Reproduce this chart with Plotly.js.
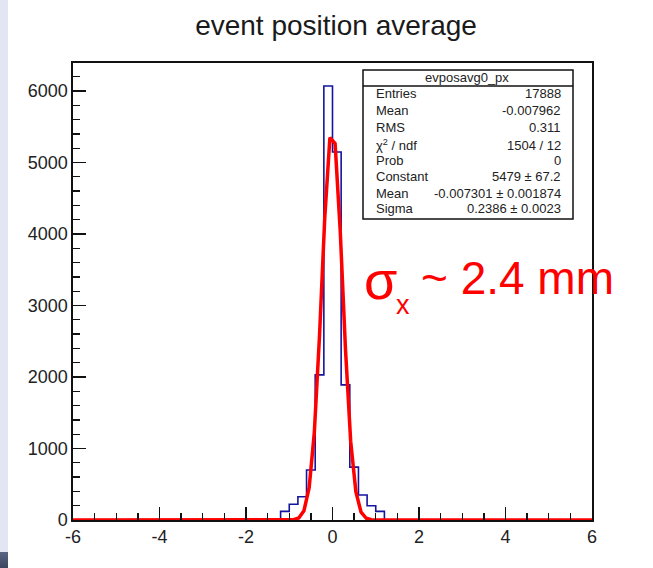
<!DOCTYPE html>
<html>
<head>
<meta charset="utf-8">
<script src="https://cdn.plot.ly/plotly-3.0.1.min.js"></script>
<style>
  html, body { margin: 0; padding: 0; background: #ffffff; }
  #chart { position: absolute; left: 0; top: 0; width: 653px; height: 568px; }
  #strip { position: absolute; left: 0; top: 0; width: 8px; height: 552px; background: #e2e6f3; z-index: 5; }
  #stripDark { position: absolute; left: 0; top: 552px; width: 8px; height: 16px; background: linear-gradient(#5a6684, #3c4660); z-index: 5; }
</style>
</head>
<body>
<div id="chart"></div>
<div id="strip"></div>
<div id="stripDark"></div>
<script>
// ---- data ----
const binEdges = [-1.2, -1.0, -0.8, -0.6, -0.4, -0.2, 0.0, 0.2, 0.4, 0.6, 0.8, 1.0, 1.2];
const binCounts = [120, 220, 326, 700, 2030, 6070, 5147, 1890, 740, 350, 200, 120];

const fitX = [-6, -1.02, -0.90, -0.78, -0.66, -0.54, -0.42, -0.30, -0.18, -0.06,
              0.06, 0.18, 0.30, 0.42, 0.54, 0.66, 0.78, 0.90, 1.02, 6];
const fitY = [0, 0.4, 5, 29, 130, 453, 1227, 2582, 4216, 5347,
              5265, 4027, 2391, 1102, 395, 110, 24, 4, 0.4, 0];

const xTickVals = [-6, -4, -2, 0, 2, 4, 6];
const xTickText = ['-6', '-4', '-2', '0', '2', '4', '6'];
const yTickVals = [0, 1000, 2000, 3000, 4000, 5000, 6000];
const yTickText = ['0', '1000', '2000', '3000', '4000', '5000', '6000'];

const statsTitle = 'evposavg0_px';
const statLabels = ['Entries', 'Mean', 'RMS', 'χ<sup>2</sup> / ndf', 'Prob', 'Constant', 'Mean', 'Sigma'];
const statValues = ['17888', '-0.007962', '0.311', '1504 / 12', '0', '5479 ± 67.2', '-0.007301 ± 0.001874', '0.2386 ± 0.0023'];

const chartTitle = 'event position average';

// ---- build histogram outline (step) ----
const histX = [-6];
const histY = [0];
for (let i = 0; i < binCounts.length; i++) {
  histX.push(binEdges[i]);
  histY.push(binCounts[i]);
}
histX.push(binEdges[binEdges.length - 1]);
histY.push(0);
histX.push(6);
histY.push(0);

// ---- pixel -> paper helpers (layout only) ----
const L = 73, R = 592, T = 63, B = 520;
const W = 653, H = 568;
const px = p => (p - L) / (R - L);
const py = p => (B - p) / (B - T);

const FONT = 'Liberation Sans, Arial, Helvetica, sans-serif';

const traces = [
  {
    x: histX, y: histY, type: 'scatter', mode: 'lines',
    line: { shape: 'hv', color: 'rgb(20,20,160)', width: 1.6 },
    hoverinfo: 'skip', showlegend: false
  },
  {
    x: fitX, y: fitY, type: 'scatter', mode: 'lines',
    line: { shape: 'linear', color: 'rgb(255,0,0)', width: 3.5 },
    hoverinfo: 'skip', showlegend: false
  }
];

const shapes = [
  { type: 'rect', xref: 'paper', yref: 'paper', x0: px(363), x1: px(573), y0: py(219), y1: py(70),
    line: { color: '#111', width: 1.5 }, fillcolor: '#ffffff', layer: 'above' },
  { type: 'line', xref: 'paper', yref: 'paper', x0: px(363), x1: px(573), y0: py(86), y1: py(86),
    line: { color: '#111', width: 1.5 }, layer: 'above' }
];

const rowY = [93, 111, 128, 145, 160, 176, 193, 209];
const SF = 13;
const annotations = [];
annotations.push({ xref: 'paper', yref: 'paper', x: px(467), y: py(78), text: statsTitle,
  showarrow: false, xanchor: 'center', yanchor: 'middle', font: { family: FONT, size: SF, color: '#222' } });
for (let i = 0; i < statLabels.length; i++) {
  annotations.push({ xref: 'paper', yref: 'paper', x: px(374), y: py(rowY[i]), text: statLabels[i],
    showarrow: false, xanchor: 'left', yanchor: 'middle', font: { family: FONT, size: SF, color: '#222' } });
  annotations.push({ xref: 'paper', yref: 'paper', x: px(563), y: py(rowY[i]), text: statValues[i],
    showarrow: false, xanchor: 'right', yanchor: 'middle', font: { family: FONT, size: SF, color: '#222' } });
}
// sigma_x label
annotations.push({ xref: 'paper', yref: 'paper', x: px(362), y: py(280), text: 'σ',
  showarrow: false, xanchor: 'left', yanchor: 'middle', font: { family: FONT, size: 54, color: 'rgb(255,0,0)' } });
annotations.push({ xref: 'paper', yref: 'paper', x: px(394), y: py(305), text: 'x',
  showarrow: false, xanchor: 'left', yanchor: 'middle', font: { family: FONT, size: 27, color: 'rgb(255,0,0)' } });
annotations.push({ xref: 'paper', yref: 'paper', x: px(419), y: py(278), text: '~ 2.4 mm',
  showarrow: false, xanchor: 'left', yanchor: 'middle', font: { family: FONT, size: 46, color: 'rgb(255,0,0)' } });

const layout = {
  width: W, height: H,
  margin: { l: L, r: W - R, t: T, b: H - B, pad: 0 },
  paper_bgcolor: '#ffffff', plot_bgcolor: '#ffffff',
  showlegend: false,
  title: { text: chartTitle, xref: 'container', yref: 'container', x: 336 / W, y: 1 - 25 / H,
    xanchor: 'center', yanchor: 'middle', font: { family: FONT, size: 28, color: '#1a1a1a' } },
  xaxis: {
    range: [-6, 6], tickmode: 'array', tickvals: xTickVals, ticktext: xTickText,
    ticks: 'inside', ticklen: 13, tickwidth: 1.3, tickcolor: '#111',
    minor: { dtick: 0.5, tick0: 0, ticks: 'inside', ticklen: 7, tickwidth: 1.3, tickcolor: '#111', showgrid: false },
    showline: true, linecolor: '#111', linewidth: 1.6, mirror: true,
    showgrid: false, zeroline: false,
    tickfont: { family: FONT, size: 18, color: '#222' }
  },
  yaxis: {
    range: [0, 6392], tickmode: 'array', tickvals: yTickVals, ticktext: yTickText,
    ticks: 'inside', ticklen: 13, tickwidth: 1.3, tickcolor: '#111',
    minor: { dtick: 200, tick0: 0, ticks: 'inside', ticklen: 7, tickwidth: 1.3, tickcolor: '#111', showgrid: false },
    showline: true, linecolor: '#111', linewidth: 1.6, mirror: true,
    showgrid: false, zeroline: false,
    tickfont: { family: FONT, size: 18, color: '#222' }
  },
  shapes: shapes,
  annotations: annotations
};

Plotly.newPlot('chart', traces, layout, { staticPlot: true, displayModeBar: false });
</script>
</body>
</html>
